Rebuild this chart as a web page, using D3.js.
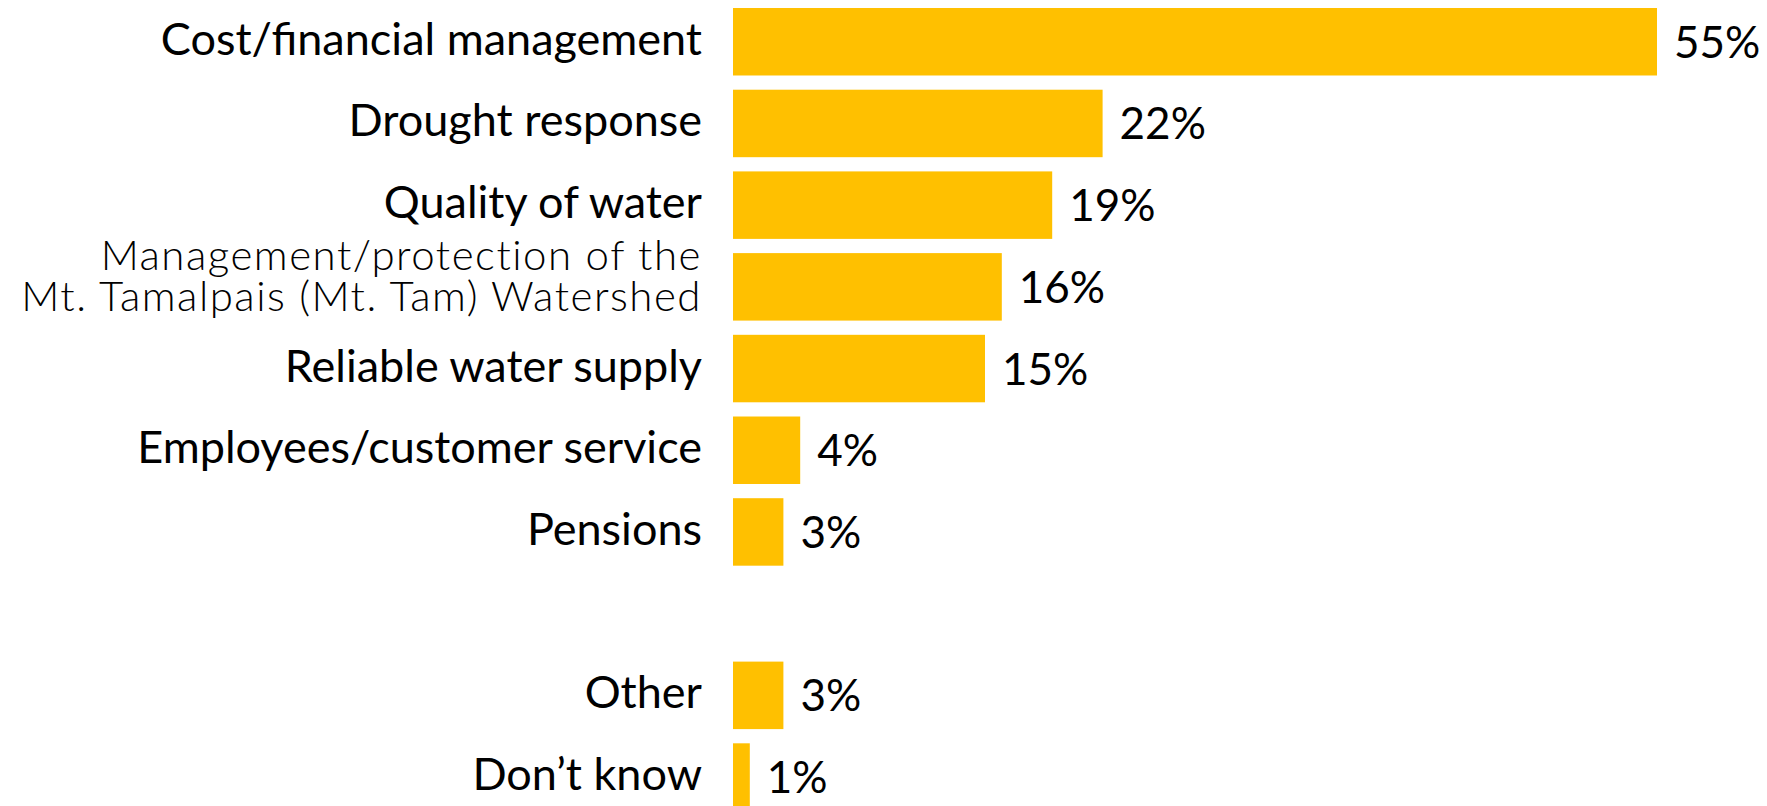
<!DOCTYPE html>
<html>
<head>
<meta charset="utf-8">
<script src="https://cdn.jsdelivr.net/npm/d3@7"></script>
<style>
  html, body { margin: 0; padding: 0; background: #fff; overflow: hidden; }
  svg { display: block; }
</style>
</head>
<body>
<div id="chart"></div>
<script>
// ---- data ----
const categories = [
  "Cost/financial management",
  "Drought response",
  "Quality of water",
  "Management/protection of the|Mt. Tamalpais (Mt. Tam) Watershed",
  "Reliable water supply",
  "Employees/customer service",
  "Pensions",
  "",
  "Other",
  "Don’t know"
];
const values = [55, 22, 19, 16, 15, 4, 3, null, 3, 1];
const valueLabels = ["55%", "22%", "19%", "16%", "15%", "4%", "3%", "", "3%", "1%"];

// ---- layout ----
const W = 1767, H = 806;
const svg = d3.select("#chart").append("svg").attr("width", W).attr("height", H);

const y = d3.scaleBand()
  .domain(categories)
  .range([0.9, 817.9])
  .paddingInner(0.174)
  .paddingOuter(0.087);

const x = d3.scaleLinear().domain([0, 55]).range([733, 1657]);

const rows = categories.map((c, i) => ({ cat: c, v: values[i], lab: valueLabels[i] }));

svg.append("g").selectAll("rect")
  .data(rows.filter(d => d.v != null))
  .join("rect")
  .attr("x", x(0))
  .attr("y", d => y(d.cat))
  .attr("width", d => x(d.v) - x(0))
  .attr("height", y.bandwidth())
  .attr("fill", "#FFC000");

// value labels
svg.append("g").selectAll("text")
  .data(rows.filter(d => d.v != null))
  .join("text")
  .attr("x", d => x(d.v) + 17)
  .attr("y", d => y(d.cat) + y.bandwidth() / 2 + 16)
  .attr("font-family", "Lato, 'Open Sans', sans-serif")
  .attr("font-size", 44)
  .attr("fill", "#000")
  .text(d => d.lab);

// category labels
const labG = svg.append("g");
rows.forEach(d => {
  if (!d.cat) return;
  const cy = y(d.cat) + y.bandwidth() / 2;
  const lines = d.cat.split("|");
  if (lines.length === 1) {
    labG.append("text")
      .attr("x", 702)
      .attr("y", cy + 13)
      .attr("text-anchor", "end")
      .attr("font-family", "Lato, 'Open Sans', sans-serif")
      .attr("font-size", 45)
      .attr("fill", "#000")
      .text(lines[0]);
  } else {
    const t = labG.append("text")
      .attr("text-anchor", "end")
      .attr("font-family", "Lato, 'Open Sans', sans-serif")
      .attr("font-weight", 300)
      .attr("font-size", 42)
      .attr("letter-spacing", 1.5)
      .attr("fill", "#000");
    t.append("tspan").attr("x", 702).attr("y", cy - 17).text(lines[0]);
    t.append("tspan").attr("x", 702).attr("y", cy + 24).text(lines[1]);
  }
});
</script>
</body>
</html>
